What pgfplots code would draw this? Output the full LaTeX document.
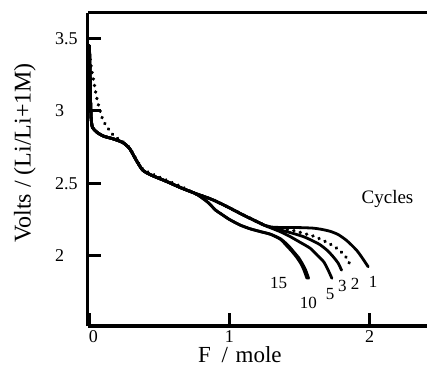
\documentclass[border=0pt]{standalone}
\usepackage{fontspec}
\setmainfont{Liberation Serif}
\usepackage{pgfplots}
\pgfplotsset{compat=1.18}
\begin{document}
\begin{tikzpicture}
\begin{axis}[
  name=ax,
  at={(0,0)}, anchor=south west,
  scale only axis, width=339bp, height=313bp,
  xmin=-0.01, xmax=2.41, ymin=1.515, ymax=3.675,
  axis lines*=left,
  axis line style={line width=3bp, black},
  xtick={0,1,2}, xticklabels={\hspace*{8bp}0,1,2},
  ytick={2,2.5,3,3.5}, yticklabels={2,2.5,3,3.5},
  tick align=inside,
  major tick length=12.5bp,
  every tick/.style={line width=3bp, black},
  yticklabel style={anchor=west, inner sep=0pt, xshift=-33bp, font=\fontsize{18bp}{20bp}\selectfont},
  xticklabel style={anchor=north, inner sep=0pt, yshift=-4bp, font=\fontsize{18bp}{20bp}\selectfont},
  xlabel={F\kern5bp{} /\kern2bp{} mole},
  ylabel={Volts / (Li/Li+1M)},
  xlabel style={at={(axis description cs:0.448,-0.117)}, anchor=base, inner sep=0pt, font=\fontsize{23bp}{26bp}\selectfont},
  ylabel style={at={(axis description cs:-0.186,0.553)}, anchor=center, font=\fontsize{24bp}{26bp}\selectfont},
  cycle list={{black, no markers}},
  every axis plot/.append style={black, no markers, line width=2.8bp, smooth, tension=0.4, line cap=round},
]
% cycle 1
\addplot coordinates {(0.000,3.45)(0.003,3.33)(0.006,3.18)(0.009,3.04)(0.013,2.94)(0.022,2.885)(0.05,2.855)(0.08,2.835)(0.11,2.822)(0.15,2.812)(0.19,2.80)(0.24,2.78)(0.286,2.741)(0.334,2.66)(0.38,2.591)(0.44,2.557)(0.557,2.51)(0.65,2.47)(0.75,2.432)
 (0.8,2.415)(0.89,2.382)(1.0,2.33)(1.1,2.28)(1.175,2.245)(1.25,2.21)(1.3,2.198)
 (1.364,2.195)(1.45,2.195)(1.538,2.193)(1.6,2.19)(1.657,2.182)(1.72,2.168)(1.776,2.146)(1.83,2.11)(1.871,2.074)(1.91,2.035)(1.942,1.993)(1.99,1.924)};
% cycle 2 (dotted)
\addplot[dash pattern=on 0.1bp off 6.5bp, line width=3.6bp] coordinates {(0,3.40)(0.01,3.32)(0.02,3.26)(0.03,3.21)(0.05,3.10)(0.07,3.02)(0.097,2.936)(0.133,2.879)(0.168,2.835)(0.2,2.81)(0.24,2.785)(0.286,2.745)(0.334,2.665)(0.38,2.598)(0.44,2.567)(0.535,2.527)(0.6,2.5)(0.677,2.467)(0.748,2.43)(0.8,2.415)
 (0.89,2.382)(1.0,2.33)(1.1,2.28)(1.175,2.245)(1.25,2.21)(1.3,2.195)
 (1.364,2.185)(1.45,2.175)(1.53,2.154)(1.6,2.135)(1.648,2.115)(1.71,2.085)(1.767,2.051)(1.81,2.015)(1.838,1.982)(1.873,1.913)};
% cycle 3
\addplot coordinates {(0.000,3.45)(0.003,3.33)(0.006,3.18)(0.009,3.04)(0.013,2.94)(0.022,2.885)(0.05,2.855)(0.08,2.835)(0.11,2.822)(0.15,2.812)(0.19,2.80)(0.24,2.78)(0.286,2.741)(0.334,2.66)(0.38,2.591)(0.44,2.557)(0.557,2.51)(0.65,2.47)(0.75,2.432)
 (0.8,2.415)(0.89,2.382)(1.0,2.33)(1.1,2.28)(1.175,2.245)(1.25,2.21)(1.3,2.195)
 (1.364,2.178)(1.45,2.155)(1.53,2.131)(1.6,2.1)(1.648,2.075)(1.7,2.035)(1.743,1.99)(1.775,1.95)(1.80,1.90)};
% cycle 5
\addplot coordinates {(0.000,3.45)(0.003,3.33)(0.006,3.18)(0.009,3.04)(0.013,2.94)(0.022,2.885)(0.05,2.855)(0.08,2.835)(0.11,2.822)(0.15,2.812)(0.19,2.80)(0.24,2.78)(0.286,2.741)(0.334,2.66)(0.38,2.591)(0.44,2.557)(0.557,2.51)(0.65,2.47)(0.75,2.432)
 (0.8,2.415)(0.89,2.382)(1.0,2.33)(1.1,2.28)(1.175,2.245)(1.25,2.21)(1.3,2.19)
 (1.364,2.165)(1.435,2.131)(1.5,2.095)(1.577,2.051)(1.63,2.0)(1.672,1.959)(1.70,1.91)(1.731,1.844)};
% cycle 10
\addplot coordinates {(0.000,3.45)(0.003,3.33)(0.006,3.18)(0.009,3.04)(0.013,2.94)(0.022,2.885)(0.05,2.855)(0.08,2.835)(0.11,2.822)(0.15,2.812)(0.19,2.80)(0.24,2.78)(0.286,2.741)(0.334,2.66)(0.38,2.591)(0.44,2.557)(0.557,2.51)(0.65,2.47)(0.75,2.432)
 (0.796,2.405)(0.85,2.365)(0.9,2.315)(0.938,2.29)(1.0,2.25)(1.08,2.21)(1.15,2.185)(1.222,2.166)(1.293,2.148)(1.364,2.117)(1.42,2.07)(1.46,2.025)(1.495,1.985)(1.52,1.945)(1.542,1.905)(1.565,1.844)};
% cycle 15
\addplot coordinates {(0.000,3.45)(0.003,3.33)(0.006,3.18)(0.009,3.04)(0.013,2.94)(0.022,2.885)(0.05,2.855)(0.08,2.835)(0.11,2.822)(0.15,2.812)(0.19,2.80)(0.24,2.78)(0.286,2.741)(0.334,2.66)(0.38,2.591)(0.44,2.557)(0.557,2.51)(0.65,2.47)(0.75,2.432)
 (0.796,2.405)(0.85,2.365)(0.9,2.315)(0.938,2.29)(1.0,2.25)(1.08,2.21)(1.15,2.185)(1.222,2.166)(1.293,2.148)(1.364,2.113)(1.412,2.065)(1.45,2.025)(1.483,1.985)(1.51,1.945)(1.53,1.905)(1.553,1.844)};
\begin{scope}[every node/.style={inner sep=0pt, anchor=base, font=\fontsize{17bp}{19bp}\selectfont}]
\node at (axis cs:2.128,2.361) {\fontsize{19bp}{21bp}\selectfont Cycles};
\node at (axis cs:1.35,1.775) {15};
\node at (axis cs:1.563,1.637) {10};
\node at (axis cs:1.719,1.70) {5};
\node at (axis cs:1.805,1.752) {3};
\node at (axis cs:1.897,1.768) {2};
\node at (axis cs:2.025,1.782) {1};
\end{scope}
\end{axis}
\draw[line width=3bp] (ax.north west) -- (ax.north east);
\pgfresetboundingbox
\path (-88bp,-47bp) rectangle (339bp,326bp);
\end{tikzpicture}
\end{document}
